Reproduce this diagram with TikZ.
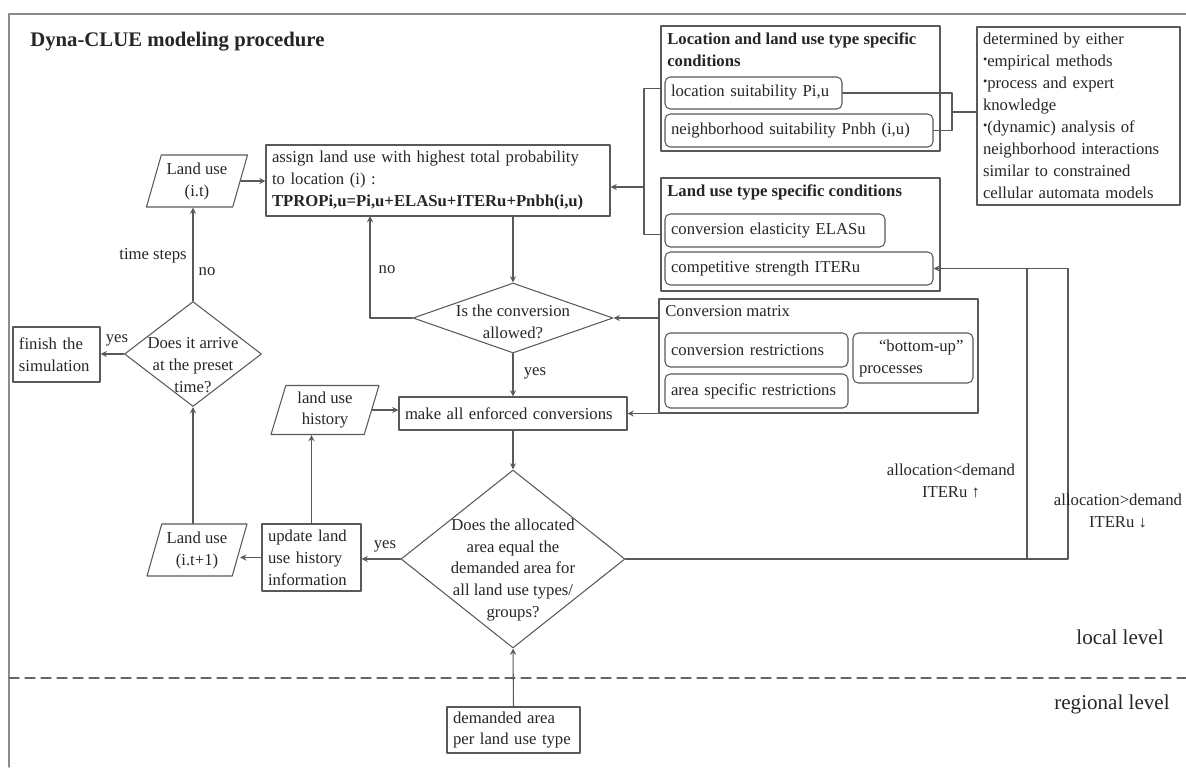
\documentclass[tikz,border=0pt]{standalone}
\usepackage{fontspec}
\setmainfont{Liberation Serif}
\usetikzlibrary{shapes.geometric}
\newcommand{\dotmark}{\raisebox{0.45ex}{\fontsize{7}{7}\selectfont\textbullet}}

\begin{document}
\begin{tikzpicture}[x=0.2mm, y=-0.2mm, >=stealth, line cap=round, line join=round,
  every node/.style={font=\fontsize{9.5}{12.5}\selectfont, text=black!85},
  box/.style={draw=black!65, line width=0.6pt, inner xsep=1.2mm, inner ysep=0.8mm, align=left},
  item/.style={box, rounded corners=3pt},
  group/.style={draw=black!65, line width=0.6pt, inner sep=0pt},
  gtitle/.style={anchor=north west, inner sep=1.3mm, align=left},
  io/.style={trapezium, trapezium left angle=70, trapezium right angle=110,
    trapezium stretches body, draw=black!65, line width=0.6pt,
    inner xsep=0pt, inner ysep=1pt, align=center},
  decision/.style={diamond, draw=black!65, line width=0.6pt, inner sep=0pt},
  arr/.style={->, draw=black!65, line width=0.6pt},
  conn/.style={draw=black!65, line width=0.6pt}]
  \useasboundingbox (0,0) rectangle (1186,767);

  % Frame and levels
  \draw[black!45, line width=0.8pt] (9,767) -- (9,14) -- (1186,14);
  \draw[black!60, line width=0.7pt, dash pattern=on 2mm off 1.2mm] (9,678) -- (1186,678);
  \node[anchor=west, inner sep=0pt, font=\bfseries\fontsize{11.8}{14}\selectfont] (title) at (30,42) {Dyna-CLUE modeling procedure};
  \node[font=\fontsize{12}{14}\selectfont] (local) at (1120,637) {local level};
  \node[font=\fontsize{12}{14}\selectfont] (regional) at (1112,704) {regional level};

  % Main column
  \node[box, text width=66.4mm, minimum height=14.2mm] (assign) at (438,180.5)
    {assign land use with highest total probability\\to location (i) :\\\textbf{TPROPi,u=Pi,u+ELASu+ITERu+Pnbh(i,u)}};
  \node[decision, minimum width=40mm, minimum height=14mm,
    label={[align=center, yshift=-0.8mm]center:Is the conversion\\allowed?}] (conv) at (513,318) {};
  \node[box, text width=43.2mm, minimum height=6.6mm] (make) at (513,413.5) {make all enforced conversions};
  \node[decision, minimum width=44.8mm, minimum height=35.6mm,
    label={[align=center, yshift=-2.2mm]center:Does the allocated\\area equal the\\demanded area for\\all land use types/\\groups?}] (alloc) at (513,559) {};
  \node[box, text width=24.2mm, minimum height=9.2mm] (demand) at (513.5,730) {demanded area\\per land use type};

  % Left column
  \node[io, minimum width=20.2mm, minimum height=10.4mm] (landit) at (197,181) {Land use\\(i.t)};
  \node[decision, minimum width=27.4mm, minimum height=21mm,
    label={[align=center, yshift=-2.2mm]center:Does it arrive\\at the preset\\time?}] (arrive) at (193,354) {};
  \node[box, text width=15mm, minimum height=11mm] (finish) at (56.5,354.5) {finish the\\simulation};
  \node[io, minimum width=20mm, minimum height=10.4mm] (landnext) at (197,550) {Land use\\(i.t+1)};
  \node[box, text width=17.4mm, minimum height=13.4mm] (update) at (311.5,557.5) {update land\\use history\\information};
  \node[io, minimum width=21.6mm, minimum height=9.8mm] (history) at (325,410) {land use\\history};

  % Conditions
  \node[group, minimum width=55.8mm, minimum height=25mm] (locgroup) at (800.5,88.5) {};
  \node[gtitle, font=\bfseries\fontsize{9.5}{12.5}\selectfont] (loctitle) at (locgroup.north west)
    {Location and land use type specific\\conditions};
  \node[item, text width=33mm, minimum height=6.4mm] (locsuit) at (753.5,93) {location suitability Pi,u};
  \node[item, text width=51.2mm, minimum height=6.6mm] (nbhsuit) at (799,130.5) {neighborhood suitability Pnbh (i,u)};
  \node[group, minimum width=55.8mm, minimum height=22.6mm] (typegroup) at (800.5,234.5) {};
  \node[gtitle, font=\bfseries\fontsize{9.5}{12.5}\selectfont] (typetitle) at (typegroup.north west)
    {Land use type specific conditions};
  \node[item, text width=41.6mm, minimum height=6.6mm] (elas) at (775,230.5) {conversion elasticity ELASu};
  \node[item, text width=51.2mm, minimum height=6.6mm] (iter) at (799,268.5) {competitive strength ITERu};
  \node[box, text width=38.2mm, minimum height=35.6mm] (detbox) at (1078.5,116)
    {determined by either\\\dotmark empirical methods\\\dotmark process and expert\\knowledge\\\dotmark(dynamic) analysis of\\neighborhood interactions\\similar to constrained\\cellular automata models};

  % Conversion matrix
  \node[group, minimum width=63.8mm, minimum height=22.8mm] (convgroup) at (818.5,356) {};
  \node[gtitle] (convtitle) at (convgroup.north west) {Conversion matrix};
  \node[item, text width=34.2mm, minimum height=6.8mm] (restr) at (756.5,350) {conversion restrictions};
  \node[item, text width=34.2mm, minimum height=6.8mm] (area) at (756.5,391) {area specific restrictions};
  \node[item, text width=21.6mm, minimum height=10mm] (bottomup) at (913,358) {\hspace*{1.2em}“bottom-up”\\processes};

  % Flow
  \draw[arr] (landit.east) -- (landit.east -| assign.west);
  \draw[arr] (conv.north |- assign.south) -- (conv.north);
  \coordinate (noturn) at (370,216);
  \draw[arr] (conv.west) -| (noturn);
  \draw[arr] (conv.south) -- (make.north);
  \draw[arr] (convgroup.west |- conv.east) -- (conv.east);
  \draw[arr] (convgroup.west |- make.east) -- (make.east);
  \draw[arr] (history.east) -- (history.east -| make.west);
  \draw[arr] (make.south) -- (alloc.north);
  \draw[arr] (alloc.west) -- (alloc.west -| update.east);
  \draw[arr] (update.north) -- (update.north |- history.south);
  \draw[arr] (update.west) -- (update.west -| landnext.east);
  \draw[arr] (arrive.south |- landnext.north) -- (arrive.south);
  \draw[arr] (arrive.north) -- (arrive.north |- landit.south);
  \draw[arr] (arrive.west) -- (arrive.west -| finish.east);
  \draw[arr] (demand.north) -- (alloc.south);

  % Brackets
  \coordinate (join) at (644,187);
  \draw[conn] (locgroup.west) -| (join) |- (typegroup.west);
  \draw[arr] (join) -- (join -| assign.east);
  \coordinate (fork) at (952,112);
  \draw[conn] (locsuit.east) -| (fork) |- (nbhsuit.east);
  \draw[conn] (fork) -- (fork -| detbox.west);

  % Feedback loop
  \coordinate (backL) at (1027,559);
  \coordinate (backR) at (1068,559);
  \draw[arr] (alloc.east) -- (backR) |- (iter.east);
  \draw[conn] (backL) -- (backL |- iter.east);

  % Branch labels
  \node (tsteps) at (153,256) {time steps};
  \node (notime) at (207,272) {no};
  \node (yesfin) at (117,340) {yes};
  \node (noconv) at (387,270) {no};
  \node (yesconv) at (535,373) {yes};
  \node (yesupd) at (385,546) {yes};
  \node[align=center] (lessdem) at (951,481) {allocation<demand\\ITERu ↑};
  \node[align=center] (moredem) at (1118,511) {allocation>demand\\ITERu ↓};
\end{tikzpicture}
\end{document}
